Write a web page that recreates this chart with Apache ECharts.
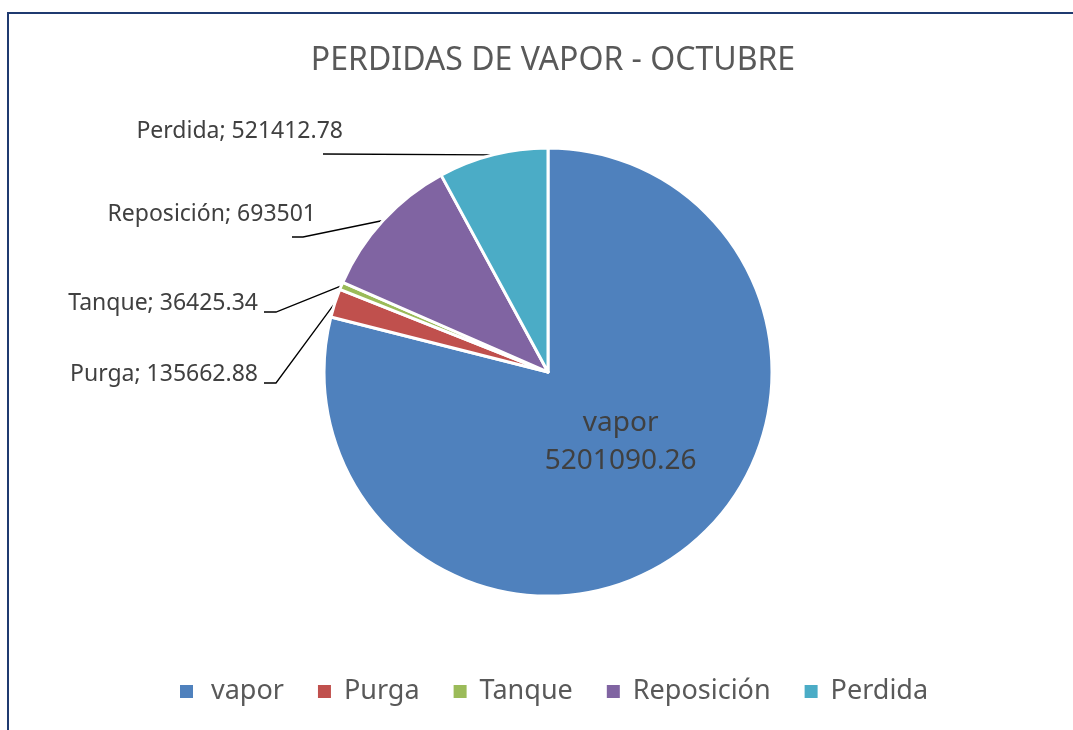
<!DOCTYPE html>
<html>
<head>
<meta charset="utf-8">
<script src="https://cdn.jsdelivr.net/npm/echarts@6/dist/echarts.min.js"></script>
<style>
  html, body { margin: 0; padding: 0; background: #fff; }
  #chart { position: absolute; left: 0; top: 0; width: 1073px; height: 730px; }
  #frame { position: absolute; left: 7px; top: 12px; width: 1066px; height: 718px;
           border-top: 2px solid #1f3a70; border-left: 2px solid #1f3a70; pointer-events: none; }
</style>
</head>
<body>
<div id="chart"></div>
<div id="frame"></div>
<script>
const categories = ['vapor', 'Purga', 'Tanque', 'Reposición', 'Perdida'];
const values = [5201090.26, 135662.88, 36425.34, 693501, 521412.78];
const colors = ['#4f81bd', '#c0504d', '#9bbb59', '#8064a2', '#4bacc6'];

// where the outside labels sit: [text right, text middle, leader y, leader start x, elbow x]
const labelSpots = [
  null,
  [258, 374, 383, 264, 276],
  [258, 303, 312, 264, 276],
  [316, 214, 237, 292, 303],
  [343, 131, 154, 323, null]
];

const pieData = categories.map(function (name, i) {
  const item = { name: name, value: values[i], itemStyle: { color: colors[i] } };
  if (i === 0) {
    item.label = {
      position: 'inner',
      fontSize: 28,
      lineHeight: 38,
      color: '#404040',
      formatter: function (p) { return p.name + '\n' + p.value; }
    };
    item.labelLine = { show: false };
  }
  return item;
});

const legendData = categories.map(function (name, i) {
  return { name: name, textStyle: { padding: [0, 0, 0, i === 0 ? 13 : 8] } };
});

let chart = echarts.init(document.getElementById('chart'));
chart.setOption({
  animation: false,
  title: {
    text: 'PERDIDAS DE VAPOR - OCTUBRE',
    left: 548,
    textAlign: 'center',
    top: 40,
    textStyle: { fontFamily: 'Noto Sans', fontSize: 32, fontWeight: 'normal', color: '#595959' }
  },
  legend: {
    data: legendData,
    left: 180,
    top: 678,
    padding: 0,
    itemWidth: 13,
    itemHeight: 13,
    itemGap: 34,
    icon: 'rect',
    itemStyle: { borderWidth: 0 },
    textStyle: { fontFamily: 'Noto Sans', fontSize: 27, color: '#595959' }
  },
  series: [{
    type: 'pie',
    center: [548, 372],
    radius: 224,
    startAngle: 90,
    clockwise: true,
    avoidLabelOverlap: false,
    itemStyle: { borderColor: '#fff', borderWidth: 3 },
    label: {
      show: true,
      position: 'outside',
      fontFamily: 'Noto Sans',
      fontSize: 23,
      color: '#404040',
      formatter: function (p) { return p.name + '; ' + p.value; }
    },
    labelLine: { show: true, lineStyle: { color: '#000', width: 1.3 } },
    labelLayout: function (p) {
      const spot = labelSpots[p.dataIndex];
      if (!spot) {
        // vapor label sits a little higher than the default inner spot
        return {
          x: p.labelRect.x + p.labelRect.width / 2 + 2,
          y: p.labelRect.y + p.labelRect.height / 2 - 21,
          align: 'center',
          verticalAlign: 'middle'
        };
      }
      const pts = [p.labelLinePoints[0]];
      if (spot[4] != null) pts.push([spot[4], spot[2]]);
      pts.push([spot[3], spot[2]]);
      return { x: spot[0], y: spot[1], align: 'right', verticalAlign: 'middle', labelLinePoints: pts };
    },
    data: pieData
  }]
});
</script>
</body>
</html>
